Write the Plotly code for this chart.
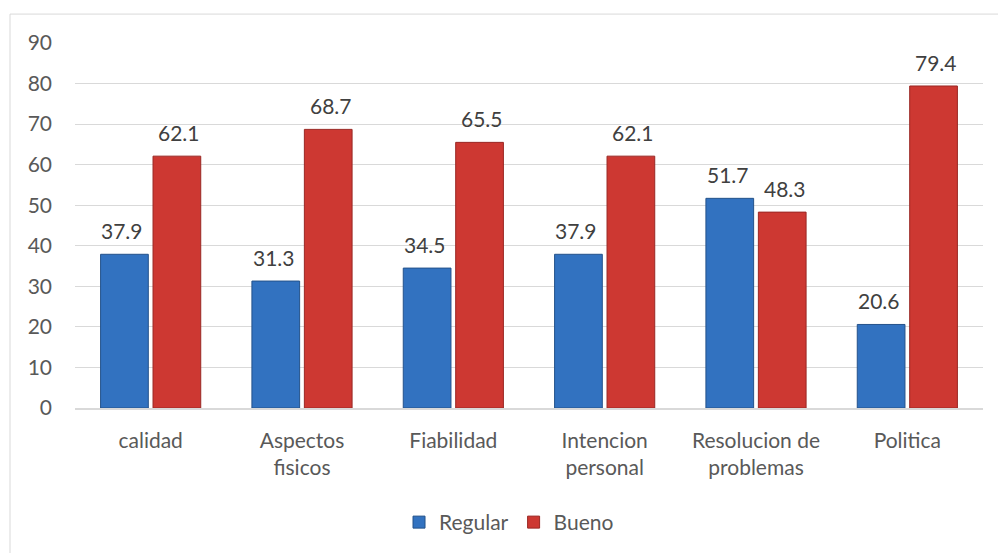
import plotly.graph_objects as go

categories = ["calidad", "Aspectos<br>fisicos", "Fiabilidad", "Intencion<br>personal",
              "Resolucion de<br>problemas", "Politica"]
regular = [37.9, 31.3, 34.5, 37.9, 51.7, 20.6]
bueno = [62.1, 68.7, 65.5, 62.1, 48.3, 79.4]
y_ticks = [0, 10, 20, 30, 40, 50, 60, 70, 80, 90]

W, H = 998, 553
L, R, T, B = 75, W - 983, 43, H - 409
FONT = "Lato"
FS = 21
TXT = "#595959"

fig = go.Figure()
fig.add_trace(go.Bar(name="Regular", x=categories, y=regular,
                     marker=dict(color="#3272C0", line=dict(color="#24528A", width=1))))
fig.add_trace(go.Bar(name="Bueno", x=categories, y=bueno,
                     marker=dict(color="#CD3832", line=dict(color="#9A2824", width=1))))

annotations = []
for series, shift in ((regular, -28.5), (bueno, 28.5)):
    for c, v in zip(categories, series):
        annotations.append(dict(x=c, y=v, xref="x", yref="y", text=f"{v:.1f}",
                                showarrow=False, xshift=shift, yshift=9,
                                yanchor="bottom",
                                font=dict(family=FONT, size=FS, color="#404040")))

pw, ph = W - L - R, H - T - B
shapes = [dict(type="rect", xref="paper", yref="paper",
               x0=(10 - L) / pw, x1=(1010 - L) / pw,
               y0=(H - B - 570) / ph, y1=(H - B - 14) / ph,
               line=dict(color="#D9D9D9", width=1), fillcolor="rgba(0,0,0,0)", layer="below")]

fig.update_layout(
    width=W, height=H,
    margin=dict(l=L, r=R, t=T, b=B),
    paper_bgcolor="white", plot_bgcolor="white",
    barmode="group", bargap=0.307, bargroupgap=0.09,
    font=dict(family=FONT, size=FS, color=TXT),
    xaxis=dict(showgrid=False, showline=True, linecolor="#D9D9D9", linewidth=1.5,
               ticks="", ticklabelstandoff=13,
               tickfont=dict(family=FONT, size=FS, color=TXT)),
    yaxis=dict(range=[0, 90], tickvals=y_ticks, showgrid=True, gridcolor="#D9D9D9",
               gridwidth=1, zeroline=False, showline=False, ticks="",
               ticklabelstandoff=22,
               tickfont=dict(family=FONT, size=FS, color=TXT)),
    legend=dict(orientation="h", x=0.478, xanchor="center", y=-0.31, yanchor="middle",
                font=dict(family=FONT, size=FS, color=TXT), itemwidth=30,
                tracegroupgap=0),
    annotations=annotations,
    shapes=shapes,
)

fig.write_html("out.html")
